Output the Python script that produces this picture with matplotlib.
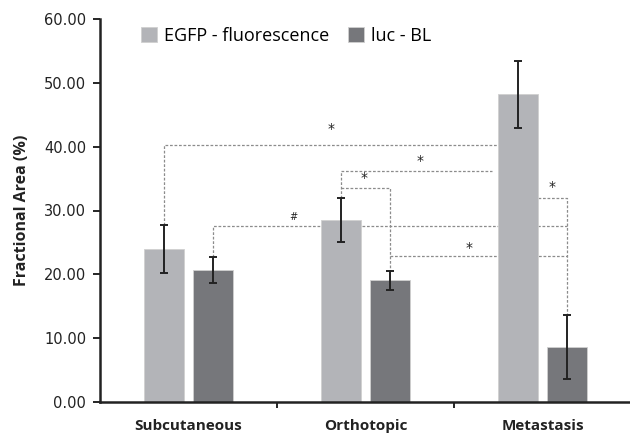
import matplotlib
matplotlib.use('Agg')
import matplotlib.pyplot as plt
import numpy as np

plt.rcParams['font.family'] = ['Open Sans', 'DejaVu Sans']

categories = ['Subcutaneous', 'Orthotopic', 'Metastasis']
series_names = ['EGFP - fluorescence', 'luc - BL']
egfp_mean = [24.0, 28.5, 48.2]
egfp_err = [3.8, 3.5, 5.2]
luc_mean = [20.7, 19.1, 8.6]
luc_err = [2.0, 1.5, 5.0]
yticks = [0, 10, 20, 30, 40, 50, 60]

# significance brackets: heights of the dashed lines and their marks
sig_levels = [40.2, 36.2, 33.6, 31.9, 27.6, 22.8]
sig_labels = ['*', '*', '*', '*', '#', '*']
label_x = [0.805, 1.308, 0.99, 2.054, 0.59, 1.585]
label_y = [42.8, 37.8, 35.1, 33.7, 29.0, 24.2]

colors = ['#b3b4b8', '#76777b']
w = 0.226
off = 0.141

fig = plt.figure(figsize=(6.3, 4.33), dpi=100)
ax = fig.add_axes([100 / 630, 31 / 433, 531 / 630, 383 / 433])

x = np.arange(len(categories))
means = [egfp_mean, luc_mean]
errs = [egfp_err, luc_err]
for k in range(2):
    xs = x + (2 * k - 1) * off
    ax.bar(xs, means[k], w, color=colors[k], edgecolor='#d0d0d0', linewidth=0.6,
           label=series_names[k], zorder=2)
    ax.errorbar(xs, means[k], yerr=errs[k], fmt='none', ecolor='#222222',
                elinewidth=1.4, capsize=3, capthick=1.4, zorder=3)


def cx(i, k):
    return i + (2 * k - 1) * off


def top(i, k):
    return means[k][i] + errs[k][i]


dash = dict(color='#8c8c8c', lw=0.9, ls=(0, (2.2, 1.4)), zorder=1)
lvl = sig_levels
# Sub EGFP -> Met EGFP
ax.plot([cx(0, 0), cx(0, 0), cx(2, 0) - w / 2], [top(0, 0), lvl[0], lvl[0]], **dash)
# Orth EGFP -> Met EGFP
ax.plot([cx(1, 0), cx(1, 0), 1.713], [top(1, 0), lvl[1], lvl[1]], **dash)
# Orth EGFP -> Orth luc
ax.plot([cx(1, 0), cx(1, 1), cx(1, 1)], [lvl[2], lvl[2], top(1, 1)], **dash)
# Met EGFP -> Met luc
ax.plot([cx(2, 0) + w / 2, cx(2, 1), cx(2, 1)], [lvl[3], lvl[3], top(2, 1)], **dash)
# Sub luc -> Met luc
ax.plot([cx(0, 1), cx(0, 1), cx(2, 1)], [top(0, 1), lvl[4], lvl[4]], **dash)
# Orth luc -> Met luc
ax.plot([cx(1, 1), cx(2, 1)], [lvl[5], lvl[5]], **dash)

for lx, ly, t in zip(label_x, label_y, sig_labels):
    ax.text(lx, ly, t, ha='center', va='center', fontsize=10 if t == '*' else 7,
            color='#222222', family='DejaVu Sans')

ax.set_xlim(-0.5, 2.5)
ax.set_ylim(0, 60)
ax.set_yticks(yticks)
ax.set_yticklabels(['%.2f' % v for v in yticks], fontsize=10.5, color='#222222',
                   family='DejaVu Sans')
ax.set_xticks(x)
ax.set_xticklabels(categories, fontsize=11, fontweight='bold', color='#222222')
ax.set_xticks([0.5, 1.5, 2.5], minor=True)
ax.tick_params(axis='x', which='major', length=0, pad=12)
ax.tick_params(axis='x', which='minor', length=4, width=1.2, direction='out')
ax.tick_params(axis='y', length=5, width=1.2, direction='out', pad=5)
ax.set_ylabel('Fractional Area (%)', fontsize=11.5, fontweight='bold', color='#222222',
              labelpad=10)

for s in ['top', 'right']:
    ax.spines[s].set_visible(False)
for s in ['left', 'bottom']:
    ax.spines[s].set_linewidth(1.8)
    ax.spines[s].set_color('#222222')

ax.legend(loc='upper left', bbox_to_anchor=(0.077, 0.979), ncol=2, frameon=False,
          fontsize=13, handlelength=0.9, handleheight=0.9, handletextpad=0.4,
          columnspacing=1.0, borderpad=0, borderaxespad=0)

fig.savefig('out.png', dpi=100)
